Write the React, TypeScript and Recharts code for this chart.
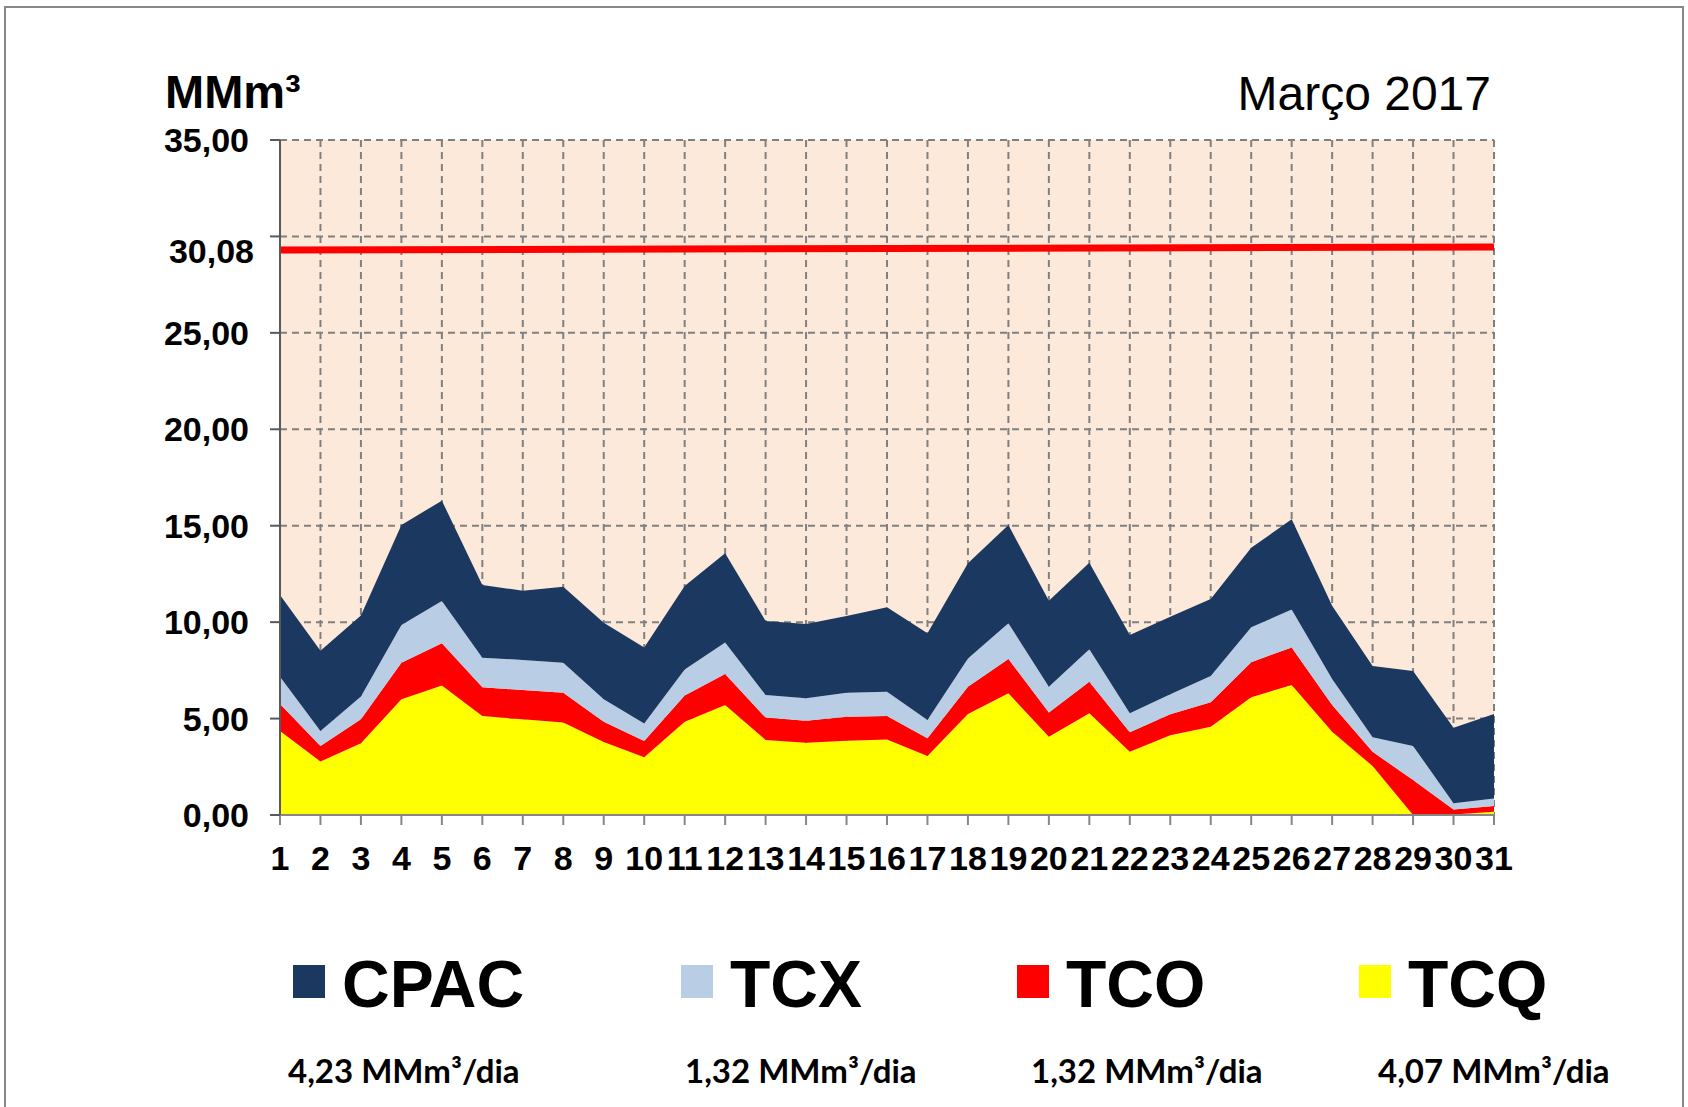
import React from "react";
import { AreaChart, Area, XAxis, YAxis, CartesianGrid, ReferenceLine } from "recharts";

// dias do mês (Março 2017)
const days = [
  "1", "2", "3", "4", "5", "6", "7", "8", "9", "10", "11", "12", "13", "14", "15", "16",
  "17", "18", "19", "20", "21", "22", "23", "24", "25", "26", "27", "28", "29", "30", "31",
];

// MMm³ por dia (empilhados de baixo para cima: TCQ, TCO, TCX, CPAC)
const tcq = [
  4.36, 2.77, 3.72, 6.0, 6.71, 5.13, 4.96, 4.79, 3.79, 2.99, 4.84, 5.7, 3.89, 3.75, 3.85, 3.92,
  3.06, 5.24, 6.31, 4.06, 5.27, 3.28, 4.13, 4.58, 6.1, 6.74, 4.32, 2.54, 0.0, 0.03, 0.17,
];
const tco = [
  1.4, 0.81, 1.24, 1.9, 2.19, 1.49, 1.52, 1.55, 1.05, 0.85, 1.35, 1.61, 1.16, 1.14, 1.25, 1.21,
  0.92, 1.41, 1.78, 1.26, 1.64, 1.01, 1.09, 1.26, 1.82, 1.95, 1.38, 0.74, 1.81, 0.26, 0.3,
];
const tcx = [
  1.41, 0.78, 1.18, 1.95, 2.2, 1.54, 1.56, 1.56, 1.16, 0.91, 1.36, 1.64, 1.17, 1.16, 1.24, 1.26,
  0.95, 1.47, 1.85, 1.33, 1.68, 0.98, 1.04, 1.37, 1.81, 1.97, 1.35, 0.75, 1.77, 0.32, 0.39,
];
const cpac = [
  4.24, 4.16, 4.2, 5.19, 5.2, 3.77, 3.59, 3.94, 3.97, 3.93, 4.32, 4.62, 3.84, 3.85, 3.98, 4.38,
  4.49, 4.93, 5.1, 4.46, 4.49, 4.06, 4.02, 3.99, 4.13, 4.67, 3.8, 3.7, 3.89, 3.92, 4.38,
];

// linha de capacidade (início e fim), e o rótulo
const limitLine = [29.3, 29.45];
const limitLabel = "30,08";

const yTicks = [0, 5, 10, 15, 20, 25, 30, 35];

// legenda
const legendNames = ["CPAC", "TCX", "TCO", "TCQ"];
const legendColors = ["#1B3860", "#B9CDE5", "#FF0000", "#FFFF00"];
const legendAverages = ["4,23 MMm³/dia", "1,32 MMm³/dia", "1,32 MMm³/dia", "4,07 MMm³/dia"];
const legendX = [293, 681, 1017, 1359];
const legendValueX = [288, 685, 1031, 1378];

const data = days.map((d, i) => ({
  day: d,
  TCQ: tcq[i],
  TCO: tco[i],
  TCX: tcx[i],
  CPAC: cpac[i],
}));

const fmt = (v: number) => (v === 30 ? "" : v.toFixed(2).replace(".", ","));

const arial = "'Liberation Sans', Arial, sans-serif";

export default function App() {
  return (
    <div
      style={{
        position: "absolute",
        left: 0,
        top: 0,
        width: 1688,
        height: 1107,
        background: "#fff",
        overflow: "hidden",
      }}
    >
      {/* moldura */}
      <div
        style={{
          position: "absolute",
          left: 4,
          top: 6,
          width: 1680,
          height: 1120,
          border: "2px solid #878787",
          boxSizing: "border-box",
        }}
      />

      <div style={{ position: "absolute", left: 0, top: 0 }}>
        <AreaChart
          width={1688}
          height={1107}
          data={data}
          margin={{ top: 140, right: 194, left: 0, bottom: 232 }}
        >
          <CartesianGrid
            stroke="#808080"
            strokeWidth={2}
            strokeDasharray="7 5"
            fill="#FDE9D9"
            fillOpacity={1}
          />
          <XAxis
            dataKey="day"
            interval={0}
            height={60}
            tickSize={10}
            tickMargin={21}
            stroke="#878787"
            strokeWidth={2}
            tick={{ fill: "#000", fontSize: 34, fontWeight: 700, fontFamily: arial }}
          />
          <YAxis
            width={280}
            domain={[0, 35]}
            ticks={yTicks}
            interval={0}
            tickSize={10}
            tickMargin={21}
            tickFormatter={fmt}
            stroke="#595959"
            strokeWidth={2}
            tick={{ fill: "#000", fontSize: 34, fontWeight: 700, fontFamily: arial }}
          />

          <Area type="linear" dataKey="TCQ" stackId="1" stroke="none" fill="#FFFF00" fillOpacity={1} isAnimationActive={false} />
          <Area type="linear" dataKey="TCO" stackId="1" stroke="none" fill="#FF0000" fillOpacity={1} isAnimationActive={false} />
          <Area type="linear" dataKey="TCX" stackId="1" stroke="none" fill="#B9CDE5" fillOpacity={1} isAnimationActive={false} />
          <Area type="linear" dataKey="CPAC" stackId="1" stroke="none" fill="#1B3860" fillOpacity={1} isAnimationActive={false} />

          <ReferenceLine
            segment={[
              { x: days[0], y: limitLine[0] },
              { x: days[days.length - 1], y: limitLine[1] },
            ]}
            stroke="#FF0000"
            strokeWidth={7}
            ifOverflow="visible"
            label={(props: any) => {
              const vb = props.viewBox || {};
              return (
                <text
                  x={(vb.x ?? 280) - 26}
                  y={(vb.y ?? 248) + 16}
                  textAnchor="end"
                  fill="#000"
                  fontSize={34}
                  fontWeight={700}
                  fontFamily={arial}
                >
                  {limitLabel}
                </text>
              );
            }}
          />
        </AreaChart>
      </div>

      {/* textos e legenda */}
      <svg
        width={1688}
        height={1107}
        style={{ position: "absolute", left: 0, top: 0, pointerEvents: "none" }}
      >
        <text x={165} y={108} fontSize={47} fontWeight={700} fontFamily={arial} fill="#000">
          MMm³
        </text>
        <text x={1491} y={110} textAnchor="end" fontSize={48} fontFamily={arial} fill="#000">
          Março 2017
        </text>

        {legendNames.map((name, i) => (
          <g key={name}>
            <rect x={legendX[i]} y={965} width={32} height={33} fill={legendColors[i]} />
            <text
              x={legendX[i] + 49}
              y={1007}
              fontSize={66}
              fontWeight={700}
              fontFamily={arial}
              fill="#000"
            >
              {name}
            </text>
            <text
              x={legendValueX[i]}
              y={1083}
              fontSize={33}
              fontWeight={700}
              fontFamily="Lato, 'Open Sans', sans-serif"
              fill="#000"
            >
              {legendAverages[i]}
            </text>
          </g>
        ))}
      </svg>
    </div>
  );
}
